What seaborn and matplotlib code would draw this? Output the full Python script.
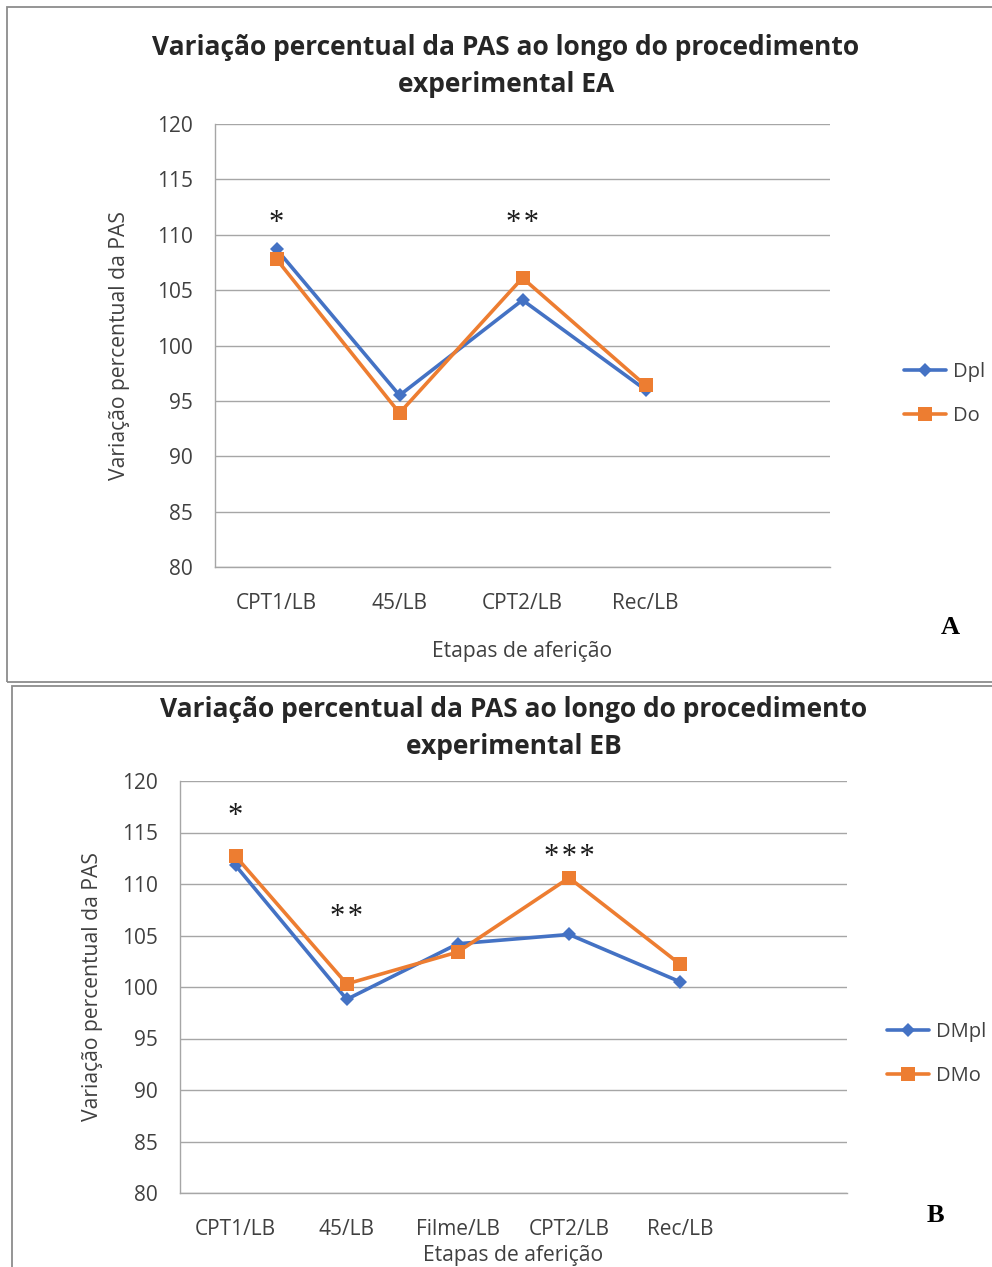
import matplotlib
matplotlib.use("Agg")
import matplotlib.pyplot as plt
import seaborn as sns
import pandas as pd
import numpy as np
from matplotlib.patches import Rectangle

sns.set_theme(style="white")
plt.rcParams['font.family'] = ['Open Sans', 'DejaVu Sans']

# ---- data ----
cats_a = ["CPT1/LB", "45/LB", "CPT2/LB", "Rec/LB"]
dpl = [108.7, 95.5, 104.1, 96.0]
do = [107.8, 93.9, 106.1, 96.4]
stars_a = ["*", "", "**", ""]

cats_b = ["CPT1/LB", "45/LB", "Filme/LB", "CPT2/LB", "Rec/LB"]
dmpl = [111.8, 98.8, 104.2, 105.1, 100.5]
dmo = [112.7, 100.3, 103.4, 110.6, 102.2]
stars_b = ["*", "**", "", "***", ""]

yticks = [80, 85, 90, 95, 100, 105, 110, 115, 120]
title_text = "Variação percentual da PAS ao longo do procedimento\nexperimental "

BLUE = "#4472C4"
ORANGE = "#ED7D31"
GRID = "#A6A6A6"

W, H = 992, 1267
fig = plt.figure(figsize=(W / 100, H / 100), dpi=100)


def fx(x):
    return x / W


def fy(y):
    return 1 - y / H


def box(x0, y0, x1, y1):
    fig.patches.append(Rectangle((fx(x0), fy(y1)), fx(x1) - fx(x0), fy(y0) - fy(y1),
                                 transform=fig.transFigure, fill=False,
                                 edgecolor="#8C8C8C", linewidth=1.3))


def panel(cats, s1, s2, names, stars, star_y, ax_px, title, tx, ty, ylab_x, xlab_y,
          leg_y, leg_x, letter, letter_xy):
    left, top, right, bottom = ax_px
    ax = fig.add_axes([fx(left), fy(bottom), fx(right) - fx(left), fy(top) - fy(bottom)])
    n = len(cats) + 1
    xs = list(range(len(cats)))
    df = pd.DataFrame({
        "x": xs * 2,
        "v": list(s1) + list(s2),
        "s": [names[0]] * len(cats) + [names[1]] * len(cats),
    })
    sns.lineplot(data=df, x="x", y="v", hue="s", style="s",
                 palette={names[0]: BLUE, names[1]: ORANGE},
                 markers={names[0]: "D", names[1]: "s"},
                 dashes=False, linewidth=2.6, markersize=8,
                 markeredgewidth=0, ax=ax, legend=False)
    for line in ax.lines:
        if line.get_marker() == "s":
            line.set_markersize(9.5)
        else:
            line.set_markersize(7.5)
    ax.set_xlim(-0.5, n - 0.5)
    ax.set_ylim(80, 120)
    ax.set_yticks(yticks)
    ax.set_yticklabels([str(t) for t in yticks], fontsize=15, color="#404040")
    ax.set_xticks(xs)
    ax.set_xticklabels(cats, fontsize=15, color="#404040")
    ax.set_xticks(np.arange(-0.5, n, 1.0), minor=True)
    ax.tick_params(axis="x", which="major", length=0, pad=19)
    ax.tick_params(axis="x", which="minor", length=7, color=GRID, width=1, direction="out")
    ax.tick_params(axis="y", which="major", length=6, color=GRID, width=1, direction="out", pad=10)
    ax.yaxis.grid(True, color=GRID, linewidth=1)
    ax.set_axisbelow(True)
    for sp in ["top", "right"]:
        ax.spines[sp].set_visible(False)
    for sp in ["left", "bottom"]:
        ax.spines[sp].set_color(GRID)
        ax.spines[sp].set_linewidth(1)
    ax.set_xlabel("")
    ax.set_ylabel("")
    for i, st in enumerate(stars):
        if st:
            ax.text(i, star_y[i], "\u200a".join(st), ha="center", va="center",
                    fontsize=22, family=["Liberation Serif", "DejaVu Serif"], color="#1a1a1a")
    fig.text(fx(tx), fy(ty), title, ha="center", va="center", fontsize=19,
             fontweight="bold", color="#262626", linespacing=1.45)
    fig.text(fx(ylab_x), fy((top + bottom) / 2), "Variação percentual da PAS",
             rotation=90, ha="center", va="center", fontsize=15.2, color="#404040")
    fig.text(fx((left + right) / 2), fy(xlab_y), "Etapas de aferição",
             ha="center", va="center", fontsize=15.2, color="#404040")
    h = [plt.Line2D([], [], color=BLUE, marker="D", markersize=7.5, linewidth=2.6, markeredgewidth=0),
         plt.Line2D([], [], color=ORANGE, marker="s", markersize=9.5, linewidth=2.6, markeredgewidth=0)]
    leg = fig.legend(h, names, loc="center left",
                     bbox_to_anchor=(fx(leg_x), fy(leg_y)), frameon=False,
                     fontsize=14.5, handlelength=2.1, labelspacing=1.2,
                     handletextpad=0.35, borderpad=0)
    for t in leg.get_texts():
        t.set_color("#404040")
    fig.text(fx(letter_xy[0]), fy(letter_xy[1]), letter, ha="center", va="center",
             fontsize=19, fontweight="bold", family=["Liberation Serif"], color="black")
    return ax


box(7, 7, 1000, 682)
box(12, 686, 1000, 1275)

panel(cats_a, dpl, do, ["Dpl", "Do"], stars_a, [111.0, 0, 111.0, 0],
      (215, 124, 830, 567), title_text + "EA", 506, 66, 120, 651,
      394, 894, "A", (950, 628))

panel(cats_b, dmpl, dmo, ["DMpl", "DMo"], stars_b, [116.6, 106.7, 0, 112.6, 0],
      (180, 781, 847, 1193), title_text + "EB", 514, 728, 93, 1255,
      1054, 877, "B", (935, 1215))

fig.savefig("out.png", dpi=100, facecolor="white")
